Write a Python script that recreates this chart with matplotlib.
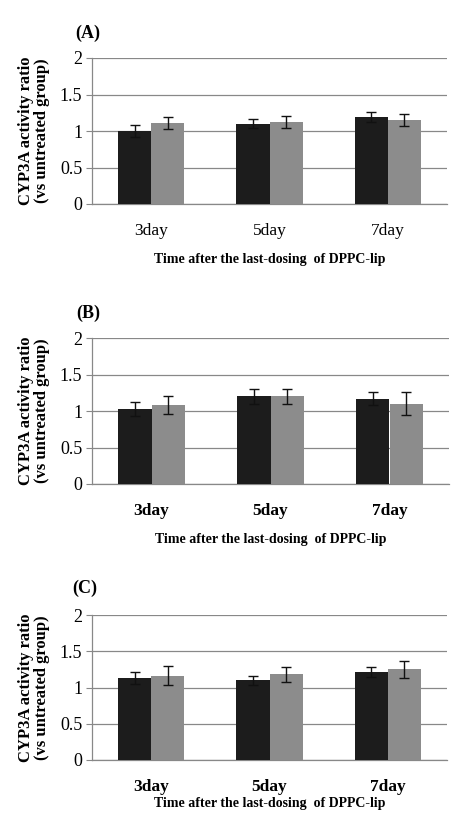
import numpy as np
import matplotlib
matplotlib.use('Agg')
import matplotlib.pyplot as plt

plt.rcParams['font.family'] = 'Liberation Serif'

days = ['3day', '5day', '7day']
panels = ['(A)', '(B)', '(C)']

# group 1 (black) and group 2 (gray) means / SD per panel
black_A = [1.00, 1.10, 1.19]
black_A_err = [0.08, 0.06, 0.07]
gray_A = [1.11, 1.12, 1.15]
gray_A_err = [0.08, 0.08, 0.08]

black_B = [1.03, 1.20, 1.17]
black_B_err = [0.10, 0.10, 0.09]
gray_B = [1.08, 1.20, 1.10]
gray_B_err = [0.12, 0.10, 0.16]

black_C = [1.13, 1.10, 1.21]
black_C_err = [0.08, 0.06, 0.07]
gray_C = [1.16, 1.18, 1.25]
gray_C_err = [0.13, 0.10, 0.12]

data = [
    (black_A, black_A_err, gray_A, gray_A_err),
    (black_B, black_B_err, gray_B, gray_B_err),
    (black_C, black_C_err, gray_C, gray_C_err),
]

W, H = 454, 815
fig = plt.figure(figsize=(W / 100, H / 100), dpi=100)

# axes boxes in pixels: left, right, top(y=2), bottom(y=0)
boxes = [(92, 447, 58, 204), (92, 449, 338, 484), (92, 447, 615, 760)]
label_pos = [(88, 33), (88, 313), (85, 588)]
bold_ticks = [False, True, True]
xlab_pad = [10, 10, 1]

x = np.arange(len(days))
bw = 0.28

for i, (b, be, g, ge) in enumerate(data):
    l, r, t, bt = boxes[i]
    ax = fig.add_axes([l / W, 1 - bt / H, (r - l) / W, (bt - t) / H])
    ax.bar(x - bw / 2, b, bw, color='#1c1c1c', zorder=3)
    ax.bar(x + bw / 2, g, bw, color='#8c8c8c', zorder=3)
    ax.errorbar(x - bw / 2, b, yerr=be, fmt='none', ecolor='#111111',
                elinewidth=1, capsize=3.5, capthick=1, zorder=4)
    ax.errorbar(x + bw / 2, g, yerr=ge, fmt='none', ecolor='#111111',
                elinewidth=1, capsize=3.5, capthick=1, zorder=4)

    ax.set_xlim(-0.5, 2.5)
    ax.set_ylim(0, 2)
    ax.set_yticks([0, 0.5, 1, 1.5, 2])
    ax.set_yticklabels(['0', '0.5', '1', '1.5', '2'], fontsize=13)
    ax.set_xticks(x)
    ax.set_xticklabels(days, fontsize=12.5,
                       fontweight='bold' if bold_ticks[i] else 'normal')
    ax.tick_params(axis='x', length=0, pad=14)
    ax.tick_params(axis='y', length=4, color='#888888', pad=3)
    ax.grid(axis='y', color='#888888', lw=0.9, zorder=0)
    for s in ['top', 'right']:
        ax.spines[s].set_visible(False)
    ax.spines['left'].set_color('#888888')
    ax.spines['bottom'].set_color('#888888')
    ax.spines['left'].set_linewidth(0.9)
    ax.spines['bottom'].set_linewidth(0.9)

    ax.set_xlabel('Time after the last-dosing  of DPPC-lip', fontsize=10,
                  fontweight='bold', labelpad=xlab_pad[i])
    ax.set_ylabel('CYP3A activity ratio\n(vs untreated group)', fontsize=12,
                  fontweight='bold', labelpad=7, linespacing=1.0)

    fig.text(label_pos[i][0] / W, 1 - label_pos[i][1] / H, panels[i],
             fontsize=13, fontweight='bold', ha='center', va='center')

fig.savefig('out.png', dpi=100)
